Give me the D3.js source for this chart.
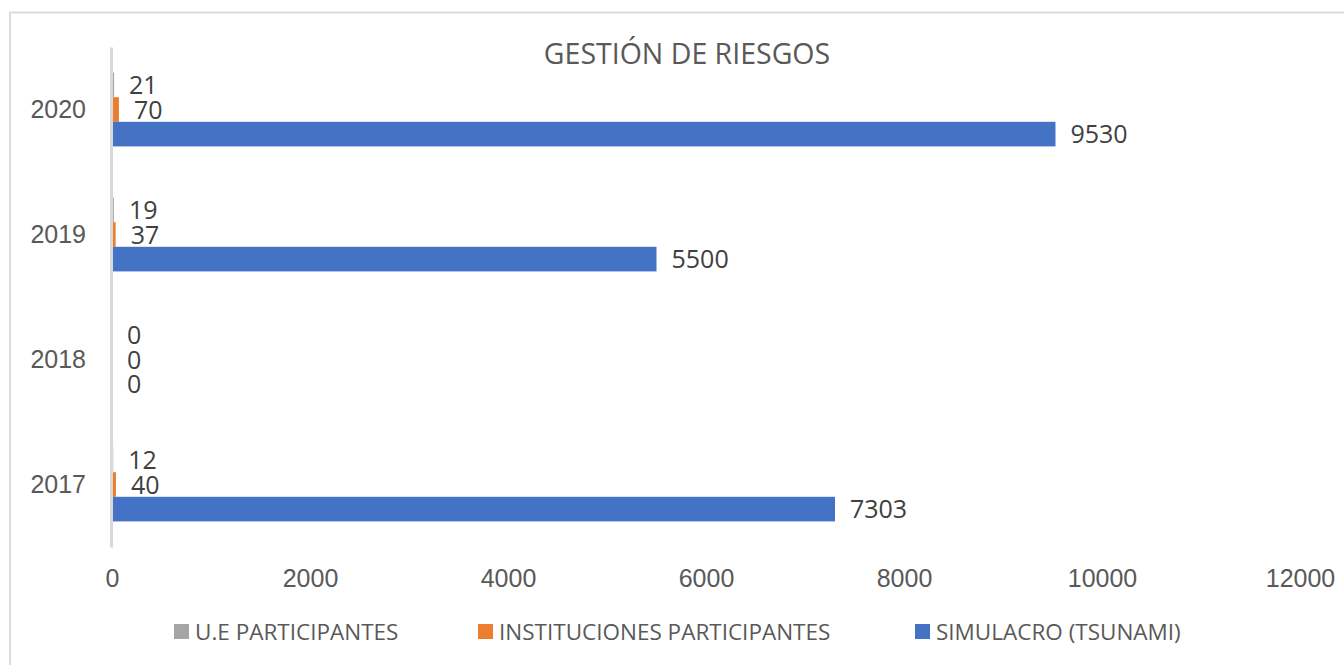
<!DOCTYPE html>
<html>
<head>
<meta charset="utf-8">
<script src="https://cdn.jsdelivr.net/npm/d3@7"></script>
<style>
  html, body { margin: 0; padding: 0; background: #fff; overflow: hidden; }
  svg { display: block; font-family: "Open Sans", "Noto Sans", sans-serif; }
</style>
</head>
<body>
<div id="chart"></div>
<script>
// Gestión de riesgos: horizontal grouped bars, one group per year.
const years = ["2020", "2019", "2018", "2017"];
const seriesNames = ["U.E PARTICIPANTES", "INSTITUCIONES PARTICIPANTES", "SIMULACRO (TSUNAMI)"];
const seriesColors = ["#a5a5a5", "#ed7d31", "#4472c4"];
const ueParticipantes = [21, 19, 0, 12];
const instituciones = [70, 37, 0, 40];
const simulacro = [9530, 5500, 0, 7303];
const xTicks = [0, 2000, 4000, 6000, 8000, 10000, 12000];

const W = 1344, H = 665;
const m = { l: 112, r: 44, t: 47, b: 118 };

const svg = d3.select("#chart").append("svg").attr("width", W).attr("height", H);

// chart border (the picture is cropped: only top and left edges show)
svg.append("rect").attr("x", 10).attr("y", 12.5).attr("width", W).attr("height", H)
  .attr("fill", "none").attr("stroke", "#d9d9d9").attr("stroke-width", 1.8);

svg.append("text").attr("x", 687).attr("y", 64).attr("text-anchor", "middle")
  .style("font-size", "28.5px").attr("fill", "#595959").text("GESTIÓN DE RIESGOS");

const x = d3.scaleLinear().domain([0, 12000]).range([m.l, W - m.r]);
const y = d3.scaleBand().domain(years).range([m.t, H - m.b]);
const sub = d3.scaleBand().domain(d3.range(3)).range([0, y.bandwidth()]).paddingOuter(1.04);

const rows = years.map((yr, i) => ({
  year: yr,
  vals: [ueParticipantes[i], instituciones[i], simulacro[i]],
}));

// x axis labels only (no gridlines)
const xAxis = svg.append("g").attr("transform", `translate(0,${H - m.b})`)
  .call(d3.axisBottom(x).tickValues(xTicks).tickSize(0).tickPadding(22).tickFormat(d3.format("d")));
xAxis.select(".domain").remove();
xAxis.selectAll("text").style("font-size", "25px").attr("fill", "#595959");

// bars
const g = svg.append("g").selectAll("g").data(rows).join("g")
  .attr("transform", (d) => `translate(0,${y(d.year)})`);
g.selectAll("rect").data((d) => d.vals).join("rect")
  .attr("x", x(0)).attr("y", (v, k) => sub(k))
  .attr("width", (v) => x(v) - x(0)).attr("height", sub.bandwidth())
  .attr("fill", (v, k) => seriesColors[k]);
g.selectAll("text").data((d) => d.vals).join("text")
  .attr("x", (v) => x(v) + 15).attr("y", (v, k) => sub(k) + sub.bandwidth() / 2)
  .attr("dy", "0.36em").style("font-size", "25px").attr("fill", "#404040")
  .text((v) => v);

// y axis: category labels and line
const yAxis = svg.append("g").attr("transform", `translate(${m.l - 1},0)`)
  .call(d3.axisLeft(y).tickSize(0).tickPadding(25));
yAxis.select(".domain").attr("stroke", "#d9d9d9").attr("stroke-width", 3);
yAxis.selectAll("text").style("font-size", "25px").attr("fill", "#595959");

// legend
const legendX = [174, 478, 915];
const leg = svg.append("g").selectAll("g").data(seriesNames).join("g")
  .attr("transform", (d, i) => `translate(${legendX[i]},631.5)`);
leg.append("rect").attr("x", 0).attr("y", -7.5).attr("width", 15).attr("height", 15)
  .attr("fill", (d, i) => seriesColors[i]);
leg.append("text").attr("x", 21).attr("dy", "0.36em").style("font-size", "22.5px")
  .attr("fill", "#595959").text((d) => d);
</script>
</body>
</html>
